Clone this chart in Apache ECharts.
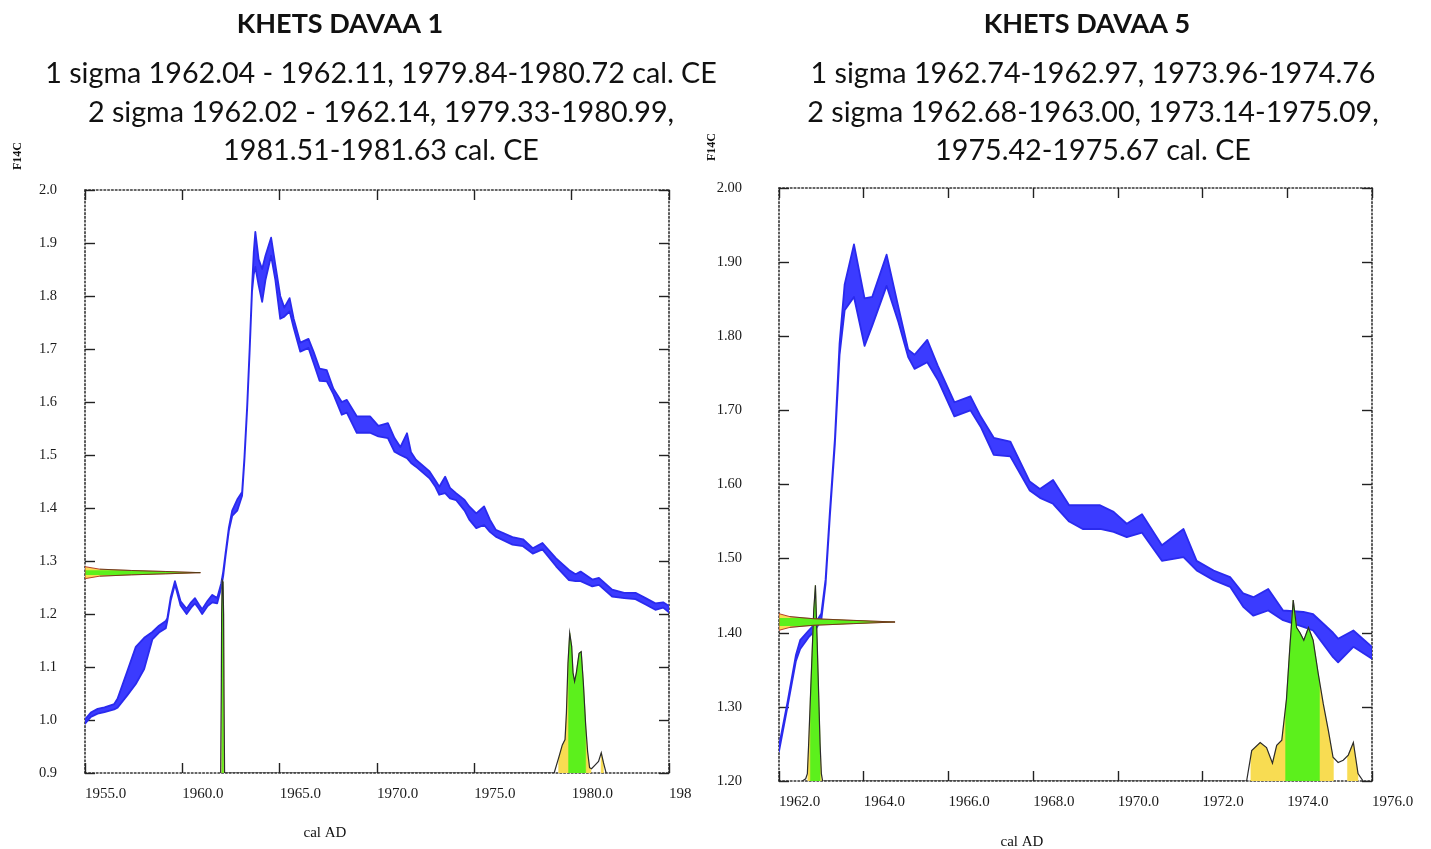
<!DOCTYPE html>
<html><head><meta charset="utf-8">
<script src="https://cdn.jsdelivr.net/npm/echarts@6/dist/echarts.min.js"></script>
<style>html,body{margin:0;padding:0;background:#fff}#c{width:1431px;height:849px}</style>
</head><body><div id="c"></div>
<script>
// ---------- Texts ----------
const leftTitle = 'KHETS DAVAA 1';
const leftLines = ['1 sigma 1962.04 - 1962.11, 1979.84-1980.72 cal. CE',
                   '2 sigma 1962.02 - 1962.14, 1979.33-1980.99,',
                   '1981.51-1981.63 cal. CE'];
const rightTitle = 'KHETS DAVAA 5';
const rightLines = ['1 sigma 1962.74-1962.97, 1973.96-1974.76',
                    '2 sigma 1962.68-1963.00, 1973.14-1975.09,',
                    '1975.42-1975.67 cal. CE'];
const yName = 'F14C';
const xName = 'cal AD';

// ---------- Axes ----------
const leftXRange = [1955, 1985]; const leftXStep = 5;
const leftYRange = [0.9, 2.0];   const leftYStep = 0.1;
const rightXRange = [1962, 1976]; const rightXStep = 2;
const rightYRange = [1.2, 2.0];   const rightYStep = 0.1;

// ---------- Left: calibration curve band (year, lower, upper F14C) ----------
const leftYears = [1955.0,1955.3,1955.65,1956.0,1956.5,1956.67,1957.18,1957.61,1958.04,1958.46,1958.8,1959.15,1959.23,1959.4,1959.62,1959.91,1960.22,1960.45,1960.65,1960.85,1961.02,1961.3,1961.54,1961.79,1962.0,1962.1,1962.22,1962.39,1962.56,1962.82,1963.07,1963.19,1963.33,1963.46,1963.58,1963.67,1963.75,1963.92,1964.1,1964.27,1964.56,1964.78,1965.03,1965.24,1965.51,1965.72,1966.06,1966.48,1966.74,1967.05,1967.42,1967.76,1968.19,1968.45,1968.96,1969.64,1970.07,1970.56,1970.9,1971.2,1971.54,1971.75,1972.0,1972.7,1973.0,1973.2,1973.5,1973.75,1974.06,1974.5,1974.74,1975.1,1975.5,1975.8,1976.1,1976.96,1977.5,1978.0,1978.5,1979.2,1979.86,1980.2,1980.46,1981.06,1981.4,1982.08,1982.7,1983.28,1983.8,1984.3,1984.7,1985.0];
const leftLo = [0.993,1.006,1.012,1.015,1.020,1.023,1.047,1.068,1.096,1.152,1.165,1.173,1.187,1.225,1.256,1.216,1.200,1.212,1.220,1.210,1.200,1.215,1.222,1.220,1.250,1.272,1.309,1.357,1.385,1.395,1.423,1.490,1.587,1.697,1.808,1.841,1.855,1.820,1.789,1.830,1.876,1.830,1.757,1.761,1.771,1.740,1.695,1.702,1.674,1.640,1.639,1.615,1.576,1.580,1.542,1.542,1.535,1.532,1.506,1.500,1.494,1.485,1.478,1.456,1.440,1.425,1.428,1.418,1.415,1.395,1.378,1.362,1.368,1.355,1.346,1.331,1.328,1.314,1.322,1.290,1.264,1.262,1.262,1.252,1.255,1.233,1.230,1.228,1.218,1.208,1.212,1.203];
const leftHi = [1.001,1.014,1.021,1.024,1.030,1.040,1.093,1.138,1.155,1.166,1.178,1.187,1.192,1.231,1.262,1.224,1.210,1.222,1.230,1.218,1.209,1.225,1.236,1.230,1.258,1.280,1.315,1.363,1.395,1.416,1.430,1.496,1.593,1.703,1.816,1.883,1.921,1.869,1.851,1.876,1.910,1.858,1.800,1.778,1.796,1.757,1.712,1.719,1.695,1.663,1.660,1.625,1.600,1.604,1.573,1.573,1.555,1.560,1.532,1.515,1.541,1.505,1.491,1.469,1.452,1.440,1.459,1.438,1.428,1.415,1.403,1.390,1.403,1.378,1.359,1.345,1.341,1.324,1.334,1.305,1.283,1.275,1.280,1.265,1.268,1.246,1.240,1.240,1.230,1.220,1.222,1.215];

// Left: calibrated date probability (height above axis floor, F14C units)
const leftDistYears = [1961.97,1962.0,1962.02,1962.05,1962.09,1962.12,1962.14,1962.17,1979.10,1979.35,1979.52,1979.66,1979.73,1979.81,1979.90,1980.00,1980.07,1980.15,1980.24,1980.38,1980.49,1980.60,1980.72,1980.82,1980.92,1981.02,1981.20,1981.38,1981.52,1981.63,1981.77];
const leftDistProb = [0,0.15,0.30,0.363,0.36,0.30,0.15,0,0,0.031,0.053,0.063,0.113,0.207,0.264,0.239,0.189,0.173,0.189,0.226,0.229,0.17,0.09,0.04,0.01,0.008,0.015,0.022,0.038,0.02,0];
const leftSigma1 = [[1962.04,1962.11],[1979.84,1980.72]];
const leftSigma2 = [[1962.02,1962.14],[1979.33,1980.99],[1981.51,1981.63]];

// Left: measured F14C distribution (F14C value, extent along year axis)
const leftGaussF = [1.2667,1.2714,1.2739,1.2758,1.278,1.2802,1.2821,1.2846,1.2893];
const leftGaussYear = [1955.0,1955.75,1957.4,1959.15,1960.93,1959.15,1957.4,1955.75,1955.0];
const leftGaussS1 = [1.2735,1.2825];
const leftGaussS2 = [1.2690,1.2870];

// ---------- Right: calibration curve band ----------
const rightYears = [1962.0,1962.2,1962.4,1962.5,1962.7,1962.85,1963.0,1963.1,1963.2,1963.32,1963.43,1963.55,1963.77,1964.02,1964.2,1964.54,1964.82,1965.05,1965.2,1965.5,1965.75,1966.14,1966.52,1966.76,1967.07,1967.46,1967.92,1968.16,1968.47,1968.85,1969.17,1969.58,1969.9,1970.21,1970.57,1971.04,1971.55,1971.86,1972.26,1972.65,1972.96,1973.2,1973.55,1973.9,1974.38,1974.61,1975.08,1975.2,1975.56,1976.0];
const rightLo = [1.240,1.300,1.362,1.378,1.394,1.403,1.418,1.466,1.556,1.655,1.775,1.835,1.853,1.787,1.814,1.868,1.819,1.772,1.756,1.765,1.741,1.692,1.700,1.678,1.640,1.638,1.592,1.582,1.574,1.550,1.540,1.540,1.536,1.529,1.535,1.497,1.502,1.484,1.471,1.462,1.435,1.423,1.430,1.417,1.408,1.403,1.367,1.360,1.381,1.365];
const rightHi = [1.247,1.306,1.370,1.390,1.403,1.412,1.426,1.472,1.562,1.662,1.790,1.870,1.924,1.851,1.853,1.910,1.839,1.782,1.775,1.795,1.760,1.711,1.719,1.692,1.663,1.658,1.604,1.594,1.606,1.572,1.572,1.572,1.563,1.547,1.560,1.518,1.540,1.497,1.484,1.475,1.453,1.448,1.459,1.430,1.428,1.425,1.400,1.392,1.403,1.381];

const rightDistYears = [1962.55,1962.63,1962.67,1962.70,1962.74,1962.78,1962.82,1962.86,1962.90,1962.94,1962.97,1963.00,1963.03,1973.04,1973.16,1973.36,1973.51,1973.65,1973.75,1973.87,1973.98,1974.06,1974.14,1974.22,1974.30,1974.39,1974.50,1974.61,1974.73,1974.85,1974.97,1975.08,1975.20,1975.32,1975.44,1975.56,1975.67,1975.79];
const rightDistProb = [0,0.003,0.01,0.05,0.11,0.17,0.23,0.264,0.19,0.11,0.05,0.01,0,0,0.041,0.052,0.045,0.024,0.048,0.055,0.11,0.18,0.244,0.207,0.20,0.19,0.207,0.19,0.145,0.104,0.068,0.032,0.025,0.028,0.035,0.052,0.01,0];
const rightSigma1 = [[1962.74,1962.97],[1973.96,1974.76]];
const rightSigma2 = [[1962.68,1963.00],[1973.14,1975.09],[1975.42,1975.67]];

const rightGaussF = [1.4033,1.4073,1.4100,1.4123,1.4145,1.4167,1.4190,1.4217,1.4257];
const rightGaussYear = [1962.0,1962.26,1962.8,1963.75,1964.74,1963.75,1962.8,1962.26,1962.0];
const rightGaussS1 = [1.4090,1.4200];
const rightGaussS2 = [1.4050,1.4240];

// ---------- Styles ----------
const BLUE = '#3b3bff', BLUE_EDGE = '#2a2aee';
const GREEN = '#5cf01c', YELLOW = '#f8dc52', OUTLINE = '#2b2b2b', RED = '#b8402a';
const SERIF = 'Liberation Serif';

function interp(xs, ys, x) {
  for (let i = 0; i < xs.length - 1; i++) {
    if (x >= xs[i] && x <= xs[i + 1]) {
      const t = (x - xs[i]) / (xs[i + 1] - xs[i] || 1);
      return ys[i] + t * (ys[i + 1] - ys[i]);
    }
  }
  return 0;
}
function segment(xs, ys, a, b) {
  const out = [[a, interp(xs, ys, a)]];
  for (let i = 0; i < xs.length; i++) if (xs[i] > a && xs[i] < b) out.push([xs[i], ys[i]]);
  out.push([b, interp(xs, ys, b)]);
  return out;
}

function bandRender(years, lo, hi) {
  return function (params, api) {
    if (params.dataIndex !== 0) return null;
    const pts = [];
    for (let i = 0; i < years.length; i++) pts.push(api.coord([years[i], hi[i]]));
    for (let i = years.length - 1; i >= 0; i--) pts.push(api.coord([years[i], lo[i]]));
    return { type: 'polygon', shape: { points: pts },
      style: { fill: BLUE, stroke: BLUE_EDGE, lineWidth: 1.8, lineJoin: 'round' } };
  };
}

function distRender(years, prob, base, s1, s2) {
  return function (params, api) {
    if (params.dataIndex !== 0) return null;
    const children = [];
    const addRange = (r, color) => {
      const seg = segment(years, prob, r[0], r[1]);
      const pts = seg.map(p => api.coord([p[0], base + p[1]]));
      pts.push(api.coord([r[1], base]));
      pts.push(api.coord([r[0], base]));
      children.push({ type: 'polygon', shape: { points: pts }, style: { fill: color, stroke: color, lineWidth: 0.5 } });
    };
    s2.forEach(r => addRange(r, YELLOW));
    s1.forEach(r => addRange(r, GREEN));
    const line = years.map((y, i) => api.coord([y, base + prob[i]]));
    children.push({ type: 'polyline', shape: { points: line }, style: { fill: null, stroke: OUTLINE, lineWidth: 1.2 } });
    return { type: 'group', children };
  };
}

function gaussRender(fs, ext, axisX, s1, s2) {
  return function (params, api) {
    if (params.dataIndex !== 0) return null;
    const children = [];
    const full = fs.map((f, i) => api.coord([ext[i], f]));
    children.push({ type: 'polygon', shape: { points: full }, style: { fill: YELLOW, stroke: null } });
    const seg = segment(fs, ext, s1[0], s1[1]);
    const pts = seg.map(p => api.coord([p[1], p[0]]));
    pts.push(api.coord([axisX, s1[1]]));
    pts.push(api.coord([axisX, s1[0]]));
    children.push({ type: 'polygon', shape: { points: pts }, style: { fill: GREEN, stroke: null } });
    children.push({ type: 'polygon', shape: { points: full }, style: { fill: null, stroke: RED, lineWidth: 1 } });
    const s2l = segment(fs, ext, s2[0], s2[1]);
    children.push({ type: 'polyline', shape: { points: s2l.slice(1, -1).map(p => api.coord([p[1], p[0]])) },
      style: { fill: null, stroke: '#1e3a0a', lineWidth: 0.8, opacity: 0.6 } });
    return { type: 'group', children };
  };
}

// ---------- Axes builders ----------
const XLBL = { fontFamily: SERIF, fontSize: 15, color: '#1a1a1a' };
const YLBL = { fontFamily: SERIF, fontSize: 14.5, color: '#1a1a1a' };
const frameLine = { show: true, onZero: false, lineStyle: { color: '#333', width: 1.6, type: [1.6, 2.2] } };
const tick = { show: true, inside: true, length: 10, lineStyle: { color: '#222', width: 1.4 } };
function xAx(grid, range, step, pos, fmt) {
  return { type: 'value', gridIndex: grid, position: pos, min: range[0], max: range[1], interval: step,
    axisLine: frameLine, axisTick: tick, splitLine: { show: false },
    axisLabel: fmt ? Object.assign({ show: true, align: 'left', margin: 14, formatter: fmt }, XLBL) : { show: false } };
}
function yAx(grid, range, step, pos, fmt, margin) {
  return { type: 'value', gridIndex: grid, position: pos, min: range[0], max: range[1], interval: step,
    axisLine: frameLine, axisTick: tick, splitLine: { show: false },
    axisLabel: fmt ? Object.assign({ show: true, margin: margin, padding: [0, 0, 10, 0], formatter: fmt }, YLBL) : { show: false } };
}

const leftXFmt = v => (Math.abs(v - leftXRange[1]) < 1e-6 ? String(v).slice(0, 3) : v.toFixed(1));
const leftYFmt = v => v.toFixed(1);
const rightXFmt = v => v.toFixed(1);
const rightYFmt = v => v.toFixed(2);

// ---------- Text graphics ----------
const TITLE_FONT = 'bold 27px Lato';
const SUB_FONT = '28.7px Lato';
function txt(x, y, text, font, extra) {
  return Object.assign({ type: 'text', x, y, style: { text, font, fill: '#111', align: 'center', verticalAlign: 'middle' } }, extra || {});
}
const graphics = [
  txt(340, 24, leftTitle, TITLE_FONT),
  txt(1087, 24, rightTitle, TITLE_FONT),
  ...leftLines.map((t, i) => txt(381, 74 + i * 38.5, t, SUB_FONT)),
  ...rightLines.map((t, i) => txt(1093, 74 + i * 38.5, t, SUB_FONT)),
  txt(18, 156, yName, 'bold 12px ' + SERIF, { rotation: Math.PI / 2 }),
  txt(712, 147, yName, 'bold 12px ' + SERIF, { rotation: Math.PI / 2 }),
  txt(325, 833, xName, '15px ' + SERIF),
  txt(1022, 842, xName, '15px ' + SERIF)
];

const chart = echarts.init(document.getElementById('c'));
chart.setOption({
  animation: false,
  backgroundColor: '#fff',
  graphic: graphics,
  grid: [
    { left: 85, top: 190, width: 584, height: 583 },
    { left: 779, top: 188, width: 593, height: 593 }
  ],
  xAxis: [
    xAx(0, leftXRange, leftXStep, 'bottom', leftXFmt),
    xAx(0, leftXRange, leftXStep, 'top', null),
    xAx(1, rightXRange, rightXStep, 'bottom', rightXFmt),
    xAx(1, rightXRange, rightXStep, 'top', null)
  ],
  yAxis: [
    yAx(0, leftYRange, leftYStep, 'left', leftYFmt, 28),
    yAx(0, leftYRange, leftYStep, 'right', null),
    yAx(1, rightYRange, rightYStep, 'left', rightYFmt, 37),
    yAx(1, rightYRange, rightYStep, 'right', null)
  ],
  series: [
    { type: 'custom', xAxisIndex: 0, yAxisIndex: 0, clip: true, silent: true,
      data: leftYears.map((y, i) => [y, leftLo[i], leftHi[i]]), encode: { x: 0, y: [1, 2] },
      renderItem: bandRender(leftYears, leftLo, leftHi) },
    { type: 'custom', xAxisIndex: 0, yAxisIndex: 0, clip: true, silent: true,
      data: leftDistYears.map((y, i) => [y, leftYRange[0] + leftDistProb[i]]), encode: { x: 0, y: 1 },
      renderItem: distRender(leftDistYears, leftDistProb, leftYRange[0], leftSigma1, leftSigma2) },
    { type: 'custom', xAxisIndex: 0, yAxisIndex: 0, clip: true, silent: true,
      data: leftGaussF.map((f, i) => [leftGaussYear[i], f]), encode: { x: 0, y: 1 },
      renderItem: gaussRender(leftGaussF, leftGaussYear, leftXRange[0], leftGaussS1, leftGaussS2) },
    { type: 'custom', xAxisIndex: 2, yAxisIndex: 2, clip: true, silent: true,
      data: rightYears.map((y, i) => [y, rightLo[i], rightHi[i]]), encode: { x: 0, y: [1, 2] },
      renderItem: bandRender(rightYears, rightLo, rightHi) },
    { type: 'custom', xAxisIndex: 2, yAxisIndex: 2, clip: true, silent: true,
      data: rightDistYears.map((y, i) => [y, rightYRange[0] + rightDistProb[i]]), encode: { x: 0, y: 1 },
      renderItem: distRender(rightDistYears, rightDistProb, rightYRange[0], rightSigma1, rightSigma2) },
    { type: 'custom', xAxisIndex: 2, yAxisIndex: 2, clip: true, silent: true,
      data: rightGaussF.map((f, i) => [rightGaussYear[i], f]), encode: { x: 0, y: 1 },
      renderItem: gaussRender(rightGaussF, rightGaussYear, rightXRange[0], rightGaussS1, rightGaussS2) }
  ]
});
</script></body></html>
